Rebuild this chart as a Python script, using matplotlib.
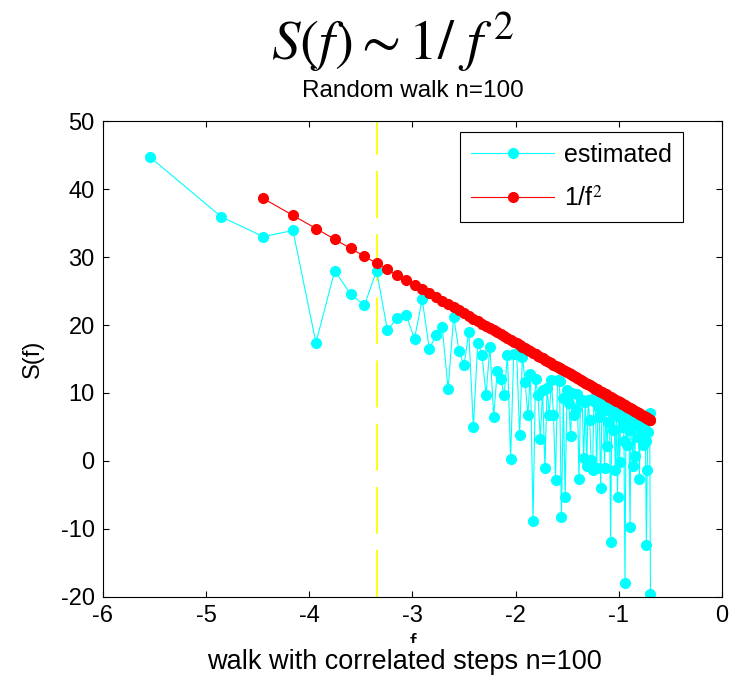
import matplotlib
matplotlib.use("Agg")
import matplotlib.pyplot as plt
import numpy as np

plt.rcParams['font.family'] = ['Liberation Sans', 'DejaVu Sans']
plt.rcParams['mathtext.fontset'] = 'stix'
plt.rcParams['axes.unicode_minus'] = False

# frequency bins k (f = k/256), x axis is ln(f)
n_fft = 256
bins = np.arange(1, 129)
cutoff_bin = 9

# estimated spectrum (dB), k = 1..128
estimated = [
    44.7, 35.9, 33.0, 33.9, 17.4, 28.0, 24.5, 22.9, 28.0, 19.2,
    21.1, 21.4, 18.0, 23.8, 16.5, 18.5, 19.7, 10.6, 21.2, 16.2,
    14.1, 18.9, 5.0, 17.4, 15.6, 9.7, 16.8, 6.5, 13.3, 12.1,
    9.7, 15.6, 0.3, 15.7, 15.8, 3.8, 15.3, 11.6, 6.8, 12.8,
    -8.8, 12.0, 9.7, 3.3, 10.4, -1.1, 10.7, 6.8, 11.9, 6.8,
    -2.8, 11.9, 11.8, -8.2, 9.2, -5.3, 10.4, 8.5, 3.7, 10.0,
    6.8, 7.7, 9.8, -2.6, 9.0, 9.0, 0.4, 8.7, -0.7, 9.0,
    6.0, 0.2, -1.3, 9.2, 8.7, -1.0, 8.0, 6.5, -4.0, 8.5,
    8.7, -1.0, 7.5, 2.2, 5.8, 8.0, -11.9, 7.5, 4.6, 7.0,
    -1.3, 7.4, -5.3, 6.5, -0.1, 6.8, 5.0, 7.2, 3.0, -18.0,
    6.5, 2.4, 6.0, 4.5, -9.7, 6.3, 5.0, -0.7, 6.2, 0.8,
    5.5, 6.6, 3.5, 6.0, -2.6, 5.8, 4.0, 6.5, 2.4, 5.0,
    6.2, 3.0, -12.3, -1.3, 4.3, 6.0, 7.0, -19.6,
]

# 1/f^2 reference (dB), k = 3..128
ref_start = 3
reference = [
    38.62, 36.12, 34.19, 32.60, 31.26, 30.10, 29.08, 28.17, 27.34, 26.58,
    25.89, 25.24, 24.64, 24.08, 23.56, 23.06, 22.59, 22.14, 21.72, 21.32,
    20.93, 20.56, 20.21, 19.87, 19.54, 19.22, 18.92, 18.62, 18.34, 18.06,
    17.80, 17.54, 17.28, 17.04, 16.80, 16.57, 16.34, 16.12, 15.91, 15.70,
    15.50, 15.30, 15.10, 14.91, 14.72, 14.54, 14.36, 14.19, 14.01, 13.85,
    13.68, 13.52, 13.36, 13.20, 13.05, 12.90, 12.75, 12.60, 12.46, 12.32,
    12.18, 12.04, 11.91, 11.77, 11.64, 11.52, 11.39, 11.26, 11.14, 11.02,
    10.90, 10.78, 10.66, 10.55, 10.44, 10.32, 10.21, 10.10, 10.00, 9.89,
    9.78, 9.68, 9.58, 9.48, 9.38, 9.28, 9.18, 9.08, 8.98, 8.89,
    8.80, 8.70, 8.61, 8.52, 8.43, 8.34, 8.25, 8.17, 8.08, 7.99,
    7.91, 7.82, 7.74, 7.66, 7.58, 7.50, 7.42, 7.34, 7.26, 7.18,
    7.10, 7.03, 6.95, 6.88, 6.80, 6.73, 6.65, 6.58, 6.51, 6.44,
    6.37, 6.30, 6.23, 6.16, 6.09, 6.02,
]

x_ticks = [-6, -5, -4, -3, -2, -1, 0]
y_ticks = [-20, -10, 0, 10, 20, 30, 40, 50]

logf = np.log(bins / n_fft)

fig = plt.figure(figsize=(7.32, 6.75), dpi=100)
ax = fig.add_axes([0.1407, 0.1156, 0.8456, 0.7051])

ax.plot(logf, estimated, '-o', color='cyan', lw=0.8, ms=7, label='estimated')
ax.plot(logf[ref_start - 1:], reference, '-o', color='red', lw=0.8, ms=7, label='1/f$^2$')
ax.axvline(np.log(cutoff_bin / n_fft), color='#ffff00', lw=1.3, dashes=(26, 9), zorder=0)

ax.set_xlim(-6, 0)
ax.set_ylim(-20, 50)
ax.set_xticks(x_ticks)
ax.set_yticks(y_ticks)
ax.tick_params(direction='in', top=True, right=True, length=4, labelsize=17, pad=6)
for s in ax.spines.values():
    s.set_linewidth(0.8)

ax.set_ylabel('S(f)', fontsize=17, labelpad=12)
ax.set_xlabel('f', fontsize=17, labelpad=4)
ax.set_title('Random walk n=100', fontsize=17.5, pad=17)

leg = ax.legend(loc='upper right', bbox_to_anchor=(0.937, 0.977), fontsize=18,
                fancybox=False, framealpha=1, edgecolor='black', handlelength=3.3,
                borderaxespad=0, borderpad=0.45, labelspacing=0.75,
                handletextpad=0.4, numpoints=1)
leg.get_frame().set_linewidth(0.8)

fig.text(0.536, 0.937, r'$S(f)\sim 1/\ f^{\,2}$', fontsize=41, ha='center', va='center')
fig.text(0.553, 0.0, 'walk with correlated steps n=100', fontsize=19.5, ha='center',
         va='bottom', bbox=dict(facecolor='white', edgecolor='none', pad=4))

fig.savefig('out.png', dpi=100)
